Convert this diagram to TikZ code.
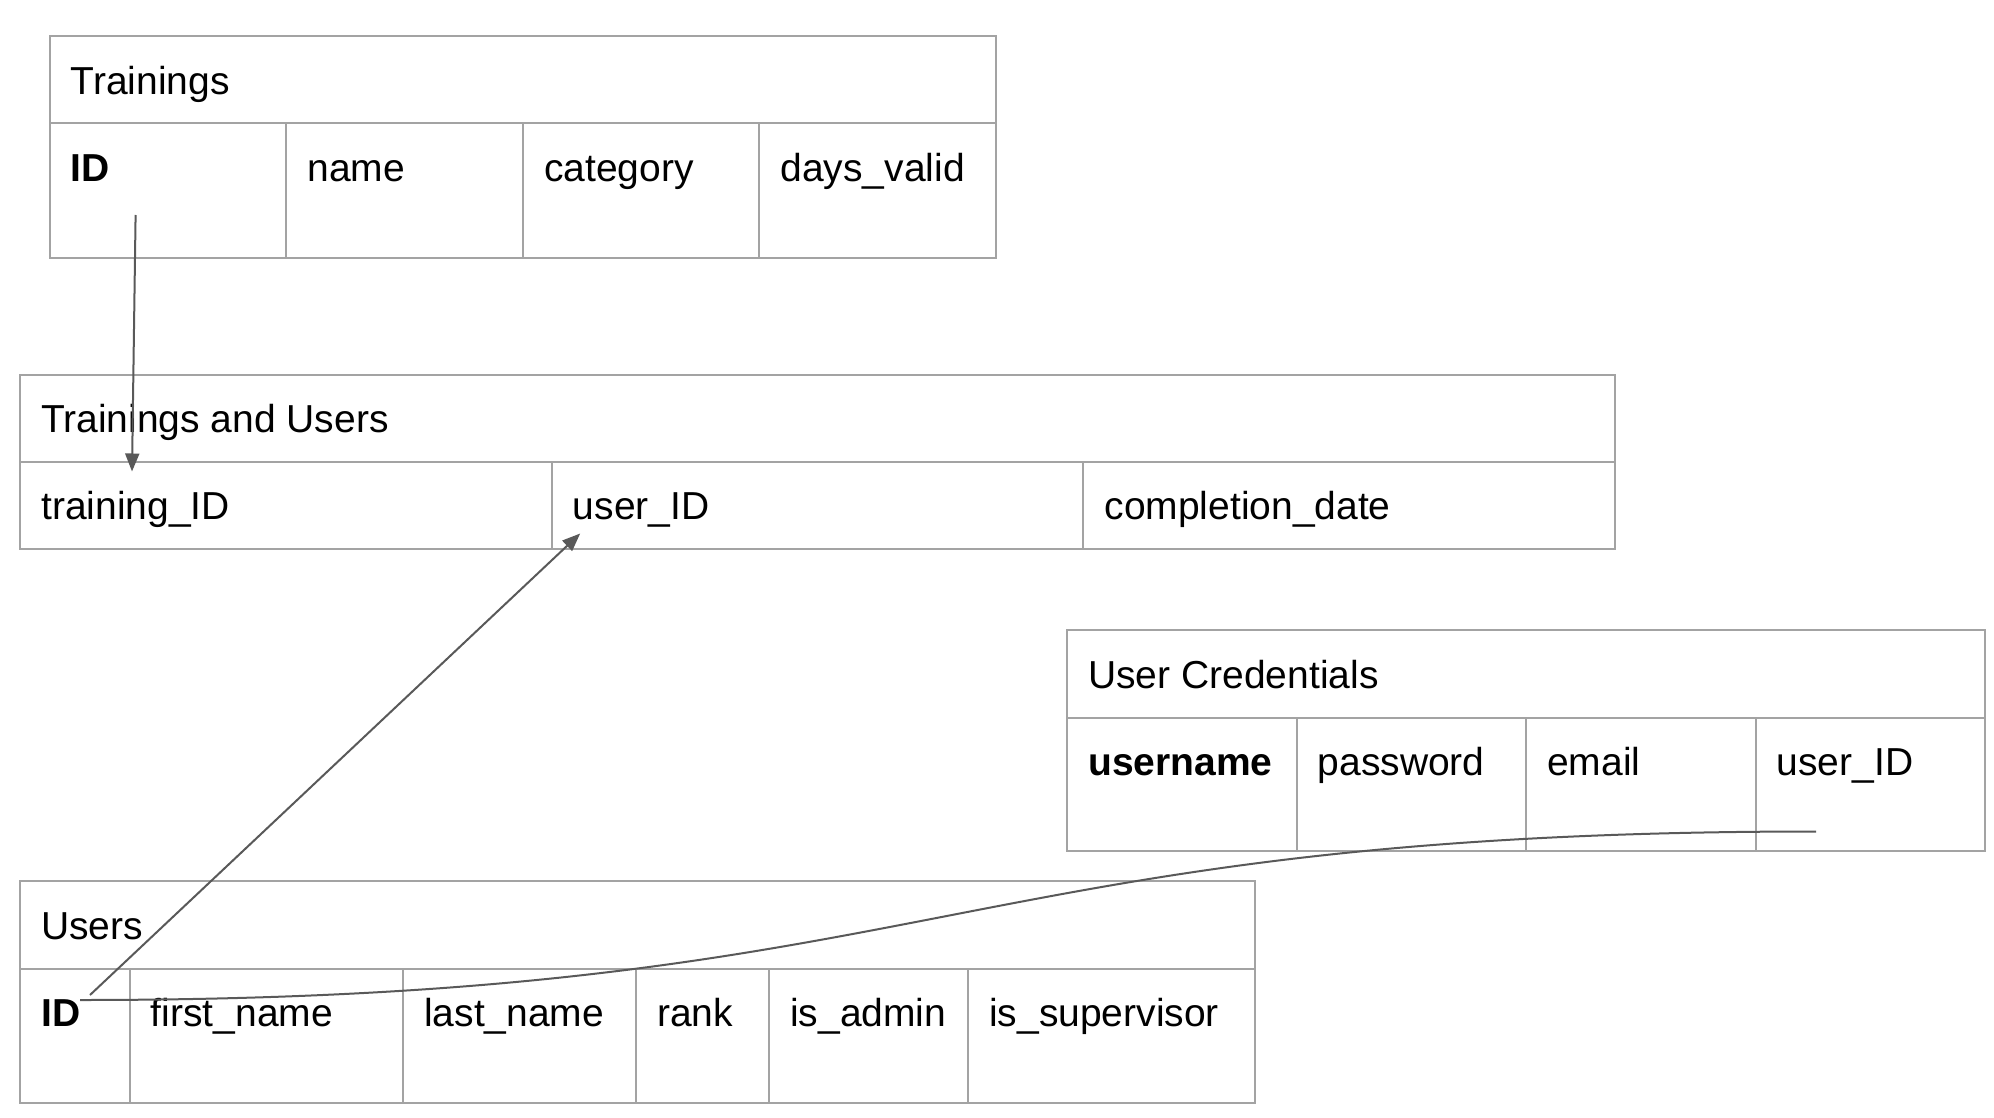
\documentclass[tikz,border=0pt]{standalone}
\usepackage{fontspec}
\setmainfont{Liberation Sans}
\usetikzlibrary{arrows.meta}
\definecolor{gridgray}{HTML}{A3A3A3}
\definecolor{linkgray}{HTML}{595959}
\tikzset{
  cellbox/.style={draw=gridgray, line width=2pt, rectangle, anchor=north west, inner sep=0pt, outer sep=0pt},
  lbl/.style={anchor=base west, inner sep=0pt, font=\fontsize{39}{47}\selectfont, text=black},
  blbl/.style={lbl, font=\fontsize{39}{47}\selectfont\bfseries},
  link/.style={draw=linkgray, line width=2pt},
  linkarrow/.style={link, -{Triangle[length=18pt,width=14pt]}, shorten >=0pt}
}
\begin{document}
\begin{tikzpicture}[x=1pt,y=-1pt]
\useasboundingbox (0,0) rectangle (1994,1118);
% ---------- Trainings ----------
\node[cellbox, minimum width=946.4pt, minimum height=87pt] (trh) at (49.6,36.5) {};
\node[lbl] at ([shift={(21,58)}]trh.north west) {Trainings};
\foreach \n/\x/\t/\s in {trid/49.6/ID/blbl, trname/286.2/name/lbl, trcat/522.8/category/lbl, trdays/759.4/days\_valid/lbl}{
  \node[cellbox, minimum width=236.6pt, minimum height=134.5pt] (\n) at (\x,123.5) {};
  \node[\s] at ([shift={(21,58)}]\n.north west) {\t};
}
% ---------- Trainings and Users ----------
\node[cellbox, minimum width=1595pt, minimum height=87pt] (tuh) at (20,374.5) {};
\node[lbl] at ([shift={(21,58)}]tuh.north west) {Trainings and Users};
\foreach \n/\x/\t in {tutid/20/training\_ID, tuuid/551.7/user\_ID, tudate/1083.3/completion\_date}{
  \node[cellbox, minimum width=531.7pt, minimum height=87pt] (\n) at (\x,461.5) {};
  \node[lbl] at ([shift={(21,58)}]\n.north west) {\t};
}
% ---------- User Credentials ----------
\node[cellbox, minimum width=918pt, minimum height=87.5pt] (uch) at (1067,630) {};
\node[lbl] at ([shift={(21,58)}]uch.north west) {User Credentials};
\foreach \n/\x/\t/\s in {ucuser/1067/username/blbl, ucpass/1296.5/password/lbl, ucmail/1526/email/lbl, ucuid/1755.5/user\_ID/lbl}{
  \node[cellbox, minimum width=229.5pt, minimum height=133.5pt] (\n) at (\x,717.5) {};
  \node[\s] at ([shift={(21,58)}]\n.north west) {\t};
}
% ---------- Users ----------
\node[cellbox, minimum width=1235pt, minimum height=87.5pt] (ush) at (20,881) {};
\node[lbl] at ([shift={(21,58)}]ush.north west) {Users};
\foreach \n/\x/\w/\t/\s in {usid/20/109.7/ID/blbl, usfirst/129.7/273.3/first\_name/lbl, uslast/403/233/last\_name/lbl, usrank/636/133/rank/lbl, usadmin/769/199/is\_admin/lbl, ussup/968/287/is\_supervisor/lbl}{
  \node[cellbox, minimum width=\w pt, minimum height=134pt] (\n) at (\x,968.5) {};
  \node[\s] at ([shift={(21,58)}]\n.north west) {\t};
}
% ---------- connectors ----------
\coordinate (c1s) at ([shift={(86,91.5)}]trid.north west);
\coordinate (c1e) at ([shift={(112,10)}]tutid.north west);
\coordinate (c2s) at ([shift={(70,26.5)}]usid.north west);
\coordinate (c2e) at ([shift={(28.5,72)}]tuuid.north west);
\coordinate (c3s) at ([shift={(60,31.5)}]usid.north west);
\coordinate (c3e) at ([shift={(60.5,114)}]ucuid.north west);
\draw[linkarrow] (c1s) -- (c1e);
\draw[linkarrow] (c2s) -- (c2e);
\draw[link] (c3s) .. controls (948,1000) and (948,831.5) .. (c3e);
\end{tikzpicture}
\end{document}
